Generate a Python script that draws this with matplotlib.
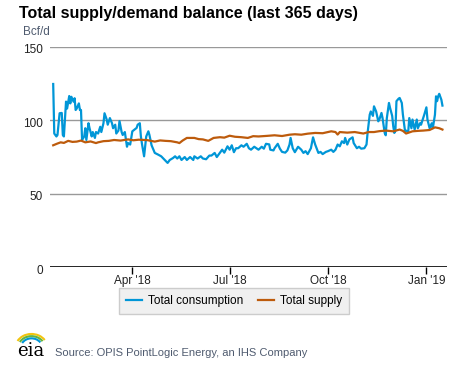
import datetime as dt
import matplotlib
matplotlib.use('Agg')
import matplotlib.pyplot as plt
import matplotlib.transforms as mtransforms
from matplotlib.patches import Arc

plt.rcParams['font.family'] = ['Liberation Sans', 'DejaVu Sans']

# window start; x values are day offsets within the last 365 days
start = dt.date(2018, 1, 17)

cons_days = [0, 1, 3, 4, 6, 8, 9, 10, 12, 13, 15, 16, 17, 19, 20, 21, 22, 24, 25, 26,
             27, 29, 30, 31, 33, 34, 36, 37, 39, 40, 42, 44, 45, 47, 48, 50, 51, 53, 55, 56,
             58, 59, 61, 62, 64, 65, 67, 69, 70, 72, 74, 78, 79, 81, 82, 83, 85, 87, 89, 90,
             92, 95, 98, 101, 104, 107, 109, 112, 114, 116, 118, 120, 123, 125, 128, 131, 132, 135, 138, 140,
             143, 146, 148, 151, 153, 156, 158, 160, 163, 165, 167, 169, 171, 173, 176, 178, 181, 183, 185, 188,
             190, 192, 195, 197, 199, 202, 203, 206, 207, 210, 212, 214, 217, 219, 221, 222, 224, 226, 229, 232,
             234, 236, 238, 241, 243, 245, 248, 250, 252, 255, 257, 260, 262, 264, 266, 268, 270, 272, 273, 275,
             277, 280, 281, 284, 286, 288, 291, 293, 294, 296, 297, 299, 300, 302, 304, 305, 307, 308, 310, 311,
             312, 314, 315, 317, 318, 319, 320, 321, 323, 324, 326, 327, 329, 330, 332, 333, 335, 336, 338, 340,
             341, 343, 344, 346, 347, 349, 350, 352, 354, 355, 357, 358, 359, 360, 361, 363, 364]
consumption = [124.7, 91, 89, 90, 104.8, 105, 90, 89, 112.7, 108, 116.5, 111.5, 116, 112.7, 115, 107, 108, 111.5, 107, 107,
               86.6, 89, 94.6, 86.6, 98, 94.6, 89, 92, 88, 92, 91, 95.6, 92, 98, 104.8, 100.6, 97, 101.5, 98, 94.6,
               97, 91, 93, 99.5, 92, 90, 92, 82, 84.5, 83.5, 92.5, 94.8, 97, 98, 89, 84, 75.5, 89, 92.5, 90,
               83, 77.8, 76.7, 75.5, 73.2, 71, 73, 74.3, 75.5, 74, 75.5, 73, 75, 73, 75, 73, 75.5, 74, 75.5, 74,
               73.5, 76, 76, 77.8, 75, 78, 80, 78, 82.3, 80, 83, 78.3, 81, 81, 83, 82, 84, 81, 80, 82,
               81, 80, 82, 80.7, 84, 83.6, 80, 79.5, 81, 84, 80.7, 78.5, 78, 79.5, 83.5, 88, 81, 78.3, 82, 80,
               77.8, 79, 77, 81, 88.4, 83.5, 77.8, 78.5, 77, 78.5, 79, 80, 78.5, 80, 83.5, 82.3, 85.7, 84.5, 88, 83.5,
               87, 88.4, 84.5, 81, 82, 80.7, 81, 83.5, 91.4, 103.8, 106, 103, 109.5, 106, 99.3, 100.5, 105, 101.5, 91.4, 89.8,
               101.5, 111.8, 108.5, 103, 96, 91.4, 92.7, 113, 114.7, 115.2, 111.8, 104, 92.7, 93, 92, 101.5, 94.6, 100.5, 93.7, 100.5,
               94.6, 98, 97, 101.5, 103.8, 108.8, 100.5, 94.6, 98, 94.6, 103.8, 116.3, 113, 116.3, 118, 114, 110]

supply_days = [0, 4, 7, 10, 14, 18, 22, 26, 30, 35, 40, 42, 47, 52, 57, 63, 70, 75, 80, 88,
               95, 100, 105, 110, 116, 118, 121, 125, 132, 136, 140, 145, 150, 156, 160, 165, 170, 176, 182, 187,
               192, 200, 207, 214, 221, 226, 232, 238, 245, 252, 260, 264, 266, 268, 275, 282, 290, 295, 300, 305,
               311, 318, 324, 327, 330, 336, 341, 346, 352, 357, 361, 364]
supply = [83, 84.2, 85, 84.6, 86, 85.3, 85.5, 86.2, 85, 85.6, 84.5, 85, 85.8, 86, 86.6, 86.2, 87, 86.4, 86.8, 86.5,
          85.5, 86.3, 86, 85.8, 85, 84.5, 86.2, 88, 88, 87.2, 87, 86, 88, 88.5, 88.2, 89.5, 88.8, 88.5, 88, 89.2,
          89, 89.4, 89.8, 89.3, 90.2, 90.5, 90.2, 90.9, 91.4, 91.2, 92.5, 92, 90.3, 92, 91.6, 92, 91, 92, 92, 92.6,
          93, 92.5, 93.7, 92.8, 91, 92.5, 92.8, 93, 93.4, 95.2, 94.6, 93.7]

yticks = [0, 50, 100, 150]
xtick_dates = [dt.date(2018, 4, 1), dt.date(2018, 7, 1), dt.date(2018, 10, 1), dt.date(2019, 1, 1)]
xtick_labels = ["Apr '18", "Jul '18", "Oct '18", "Jan '19"]

cons_x = [start + dt.timedelta(days=d) for d in cons_days]
sup_x = [start + dt.timedelta(days=d) for d in supply_days]

fig = plt.figure(figsize=(4.77, 3.67), dpi=100)
ax = fig.add_axes([0.1048, 0.2717, 0.8317, 0.6008])

ax.plot(cons_x, consumption, color='#0096d7', lw=1.6, label='Total consumption', zorder=3)
ax.plot(sup_x, supply, color='#bd5b0c', lw=1.6, label='Total supply', zorder=3)

ax.set_ylim(0, 150)
ax.set_xlim(dt.date(2018, 1, 14), dt.date(2019, 1, 20))
ax.set_yticks(yticks)
ax.set_xticks(xtick_dates)
ax.set_xticklabels(xtick_labels)
for v in yticks[1:]:
    ax.axhline(v, color='#999999', lw=1, zorder=1)
ax.axhline(0, color='black', lw=1.2, zorder=2)

for s in ax.spines.values():
    s.set_visible(False)
ax.tick_params(axis='y', length=0, labelsize=8.5, labelcolor='#222222', pad=5)
ax.tick_params(axis='x', length=5, width=1, color='black', labelsize=8.5, labelcolor='#222222', pad=0.5)

# y labels sit a touch below their gridlines
shift = mtransforms.ScaledTranslation(0, -2 / 100, fig.dpi_scale_trans)
for lab in ax.get_yticklabels():
    lab.set_transform(lab.get_transform() + shift)

fig.text(0.04, 0.962, 'Total supply/demand balance (last 365 days)', fontsize=11.5,
         fontweight='bold', color='black', va='center')
fig.text(0.048, 0.913, 'Bcf/d', fontsize=8.5, color='#4f5b6f', va='center')

leg = ax.legend(loc='center', bbox_to_anchor=(0.4906, 0.18), bbox_transform=fig.transFigure,
                ncol=2, frameon=True, fontsize=8.5, handlelength=1.4, columnspacing=1.2,
                handletextpad=0.5, borderpad=0.6)
leg.get_frame().set_facecolor('#f0f0f0')
leg.get_frame().set_edgecolor('#cccccc')
leg.get_frame().set_boxstyle('square', pad=0)
leg.get_frame().set_alpha(1)

# eia logo approximation
fig.text(0.036, 0.03, 'eia', fontsize=13, family='DejaVu Serif', color='black', va='baseline')
for col, r in [('#f2c40f', 0.030), ('#63b33f', 0.025), ('#0096d7', 0.020)]:
    arc = Arc((0.066, 0.054), r * 2.2, r * 2.4, theta1=35, theta2=150, color=col, lw=1.5,
              transform=fig.transFigure)
    fig.add_artist(arc)
fig.text(0.115, 0.03, 'Source: OPIS PointLogic Energy, an IHS Company', fontsize=8,
         color='#4f5b6f', va='baseline')

fig.savefig('out.png', dpi=100)
